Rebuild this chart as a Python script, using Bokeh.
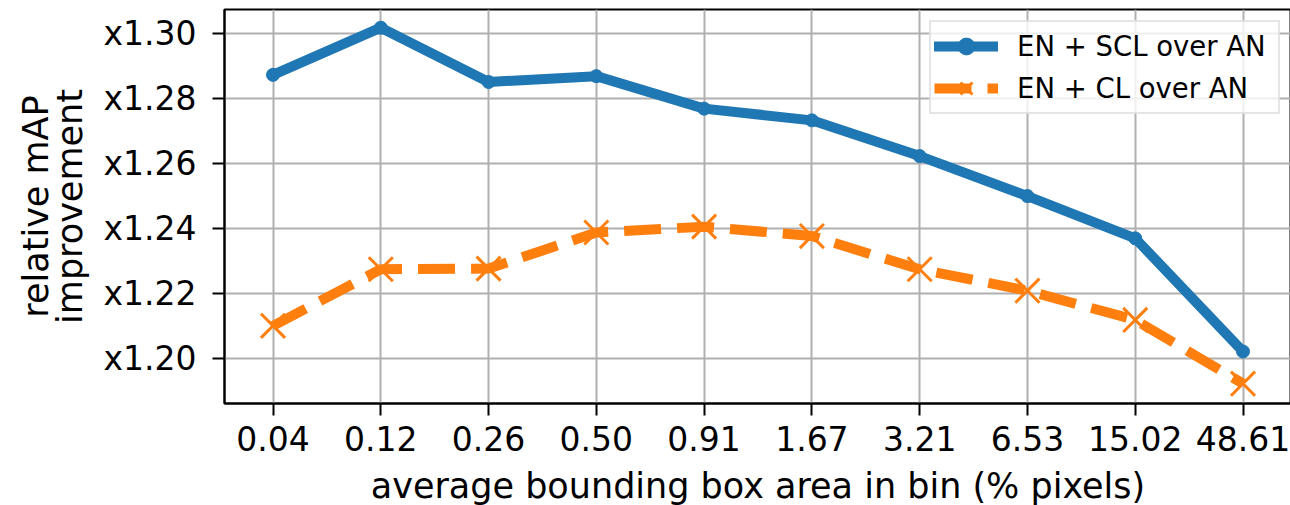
from bokeh.plotting import figure
from bokeh.models import Range1d, FixedTicker, PrintfTickFormatter, Legend, LegendItem, LinearAxis
from bokeh.embed import file_html
from bokeh.resources import INLINE

bin_labels = ["0.04", "0.12", "0.26", "0.50", "0.91", "1.67", "3.21", "6.53", "15.02", "48.61"]
scl_over_an = [1.2872, 1.3017, 1.2850, 1.2868, 1.2768, 1.2732, 1.2622, 1.2499, 1.2369, 1.2021]
cl_over_an = [1.2100, 1.2274, 1.2276, 1.2387, 1.2405, 1.2376, 1.2274, 1.2208, 1.2118, 1.1922]
y_ticks = [1.20, 1.22, 1.24, 1.26, 1.28, 1.30]
x_title = "average bounding box area in bin (% pixels)"
y_title_lines = ["relative mAP", "improvement"]

xs = list(range(len(bin_labels)))
FONT = "DejaVu Sans"
BLUE = "#1f77b4"
ORANGE = "#ff7f0e"

p = figure(
    output_backend="svg", toolbar_location=None,
    frame_width=1067, frame_height=394,
    min_border_left=224, min_border_right=0, min_border_top=9, min_border_bottom=94,
    x_range=Range1d(-0.45, len(bin_labels) - 1 + 0.45),
    y_range=Range1d(1.1861, 1.3073),
    background_fill_color="white", border_fill_color="white",
)

p.outline_line_color = "black"
p.outline_line_width = 2

# grid
for g in (p.xgrid, p.ygrid):
    g.grid_line_color = "#b0b0b0"
    g.grid_line_width = 2

# axes
p.xaxis.ticker = FixedTicker(ticks=xs)
p.xaxis.major_label_overrides = {i: lab for i, lab in enumerate(bin_labels)}
p.yaxis.ticker = FixedTicker(ticks=y_ticks)
p.yaxis.formatter = PrintfTickFormatter(format="x%.2f")
for ax in (p.xaxis, p.yaxis):
    ax.axis_line_color = "black"
    ax.axis_line_width = 2
    ax.major_tick_line_color = "black"
    ax.major_tick_line_width = 2
    ax.major_tick_out = 12
    ax.major_tick_in = 0
    ax.minor_tick_line_color = None
    ax.major_label_text_font = FONT
    ax.major_label_text_font_size = "33px"
    ax.major_label_text_color = "black"
    ax.axis_label_text_font = FONT
    ax.axis_label_text_font_size = "35px"
    ax.axis_label_text_font_style = "normal"
    ax.axis_label_text_color = "black"

p.xaxis.axis_label = x_title
p.yaxis.axis_label = y_title_lines[1]
p.xaxis.major_label_standoff = 10
p.yaxis.major_label_standoff = 16
p.xaxis.axis_label_standoff = 12
p.yaxis.axis_label_standoff = 10

# outer axis carrying the first line of the y title
outer = LinearAxis(
    ticker=FixedTicker(ticks=[]),
    axis_label=y_title_lines[0],
    axis_line_color=None,
    major_tick_line_color=None,
    minor_tick_line_color=None,
    major_tick_out=0, major_tick_in=0,
    major_label_text_color=None,
    axis_label_standoff=-8,
    axis_label_text_font=FONT,
    axis_label_text_font_size="35px",
    axis_label_text_font_style="normal",
    axis_label_text_color="black",
)
p.add_layout(outer, "left")

# series
l1 = p.line(xs, scl_over_an, line_color=BLUE, line_width=10, line_join="round", line_cap="round")
m1 = p.scatter(xs, scl_over_an, marker="circle", size=13, fill_color=BLUE, line_color=BLUE)
l2 = p.line(xs, cl_over_an, line_color=ORANGE, line_width=10, line_dash="37 16")
m2 = p.scatter(xs, cl_over_an, marker="x", size=34, line_color=ORANGE, line_width=3)

legend = Legend(
    items=[
        LegendItem(label="EN + SCL over AN", renderers=[l1, m1]),
        LegendItem(label="EN + CL over AN", renderers=[l2, m2]),
    ],
    location="top_right",
    margin=11,
    padding=3,
    spacing=0,
    glyph_width=64,
    glyph_height=42,
    label_height=42,
    label_width=258,
    label_standoff=19,
    label_text_font=FONT,
    label_text_font_size="27.5px",
    label_text_color="black",
    border_line_color="#cccccc",
    border_line_width=2,
    background_fill_color="white",
    background_fill_alpha=0.8,
)
p.add_layout(legend)

open("out.html", "w").write(file_html(p, INLINE))
